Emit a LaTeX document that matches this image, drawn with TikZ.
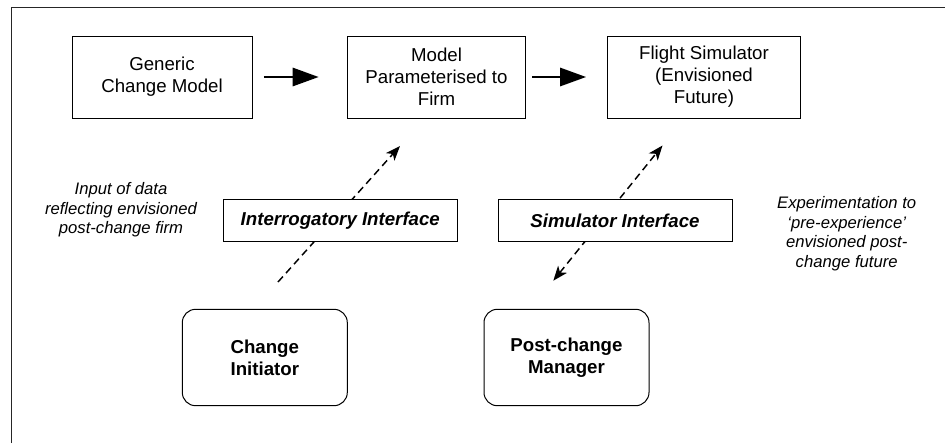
\documentclass[tikz,border=0pt]{standalone}
\usepackage{fontspec}
\setmainfont{Liberation Sans}
\usetikzlibrary{arrows.meta,backgrounds}
\begin{document}
\begin{tikzpicture}[x=0.75pt,y=-0.75pt,
  box/.style={draw,line width=0.75pt,fill=white,inner sep=0pt,align=center,
    font=\fontsize{14}{16.5}\selectfont},
  ibox/.style={box,minimum width=175.5pt,minimum height=31.3pt,
    font=\fontsize{14}{16.5}\selectfont\bfseries\itshape},
  rbox/.style={box,rounded corners=10pt,minimum width=123.75pt,minimum height=72.3pt,
    font=\fontsize{14}{16.5}\selectfont\bfseries},
  note/.style={align=center,inner sep=0pt,font=\fontsize{12.5}{14.6}\selectfont\itshape},
  solidarrow/.style={line width=2.1pt,-{Triangle[length=19.5pt,width=13.5pt]}},
  dasharrow/.style={line width=1.1pt,dash pattern=on 5.5pt off 3.5pt}
]
\useasboundingbox (0,0) rectangle (945,443);
\draw[line width=0.75pt,black!85] (11,443) -- (11,7) -- (945,7);

\node[box,minimum width=135pt,minimum height=61.5pt] (gen) at (162,77) {Generic\\Change Model};
\node[box,minimum width=133.5pt,minimum height=61.5pt] (par) at (436.5,77) {Model\\Parameterised to\\Firm};
\node[box,minimum width=144.5pt,minimum height=61.5pt] (fli) at (704,77) {Flight Simulator\\(Envisioned\\Future)};

\node[ibox] (ii) at (340.3,220.8) {Interrogatory Interface};
\node[ibox] (si) at (615,220.8) {Simulator Interface};

\node[rbox] (ci) at (264.8,357.5) {Change\\Initiator};
\node[rbox] (pm) at (566.5,357.5) {Post-change\\Manager};

\node[note] (inp) at (121,210) {Input of data\\reflecting envisioned\\post-change firm};
\node[note] (exp) at (846.7,233.5) {Experimentation to\\‘pre-experience’\\envisioned post-\\change future};

\draw[solidarrow,shorten <=8.5pt,shorten >=21.2pt] (gen.east) -- (par.west);
\draw[solidarrow,shorten <=4.65pt,shorten >=15.75pt] (par.east) -- (fli.west);

\coordinate (d1s) at (278,282);
\coordinate (d1e) at (400,146);
\coordinate (d2s) at (553.3,280.7);
\coordinate (d2e) at (662.5,145.5);
\begin{pgfonlayer}{background}
\draw[dasharrow,-{Stealth[length=11pt,width=8.5pt,inset=3pt]}] (d1s) -- (d1e);
\draw[dasharrow,{Stealth[length=11pt,width=8.5pt,inset=3pt]}-{Stealth[length=11pt,width=8.5pt,inset=3pt]}] (d2s) -- (d2e);
\end{pgfonlayer}
\end{tikzpicture}
\end{document}
